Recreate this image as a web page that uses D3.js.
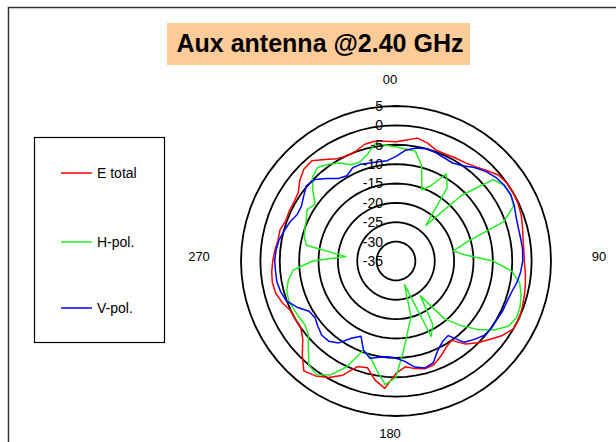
<!DOCTYPE html>
<html>
<head>
<meta charset="utf-8">
<script src="https://cdn.jsdelivr.net/npm/d3@7"></script>
<style>
  body { margin: 0; background: #fff; }
  svg { display: block; font-family: "Liberation Sans", Arial, sans-serif; }
</style>
</head>
<body>
<div id="chart"></div>
<script>
// measurement angles, degrees clockwise from top
const angles = d3.range(0, 360, 5);

// gain in dB, one value per angle
const eTotal = [
  -4.2, -3.65, -2.8, -3.5, -4.6, -4.6, -4.3, -4.0, -3.2, -2.0, -0.5, 0,
  0, -0.2, -0.6, -1.2, -1.7, -1.9, -1.9, -1.5, -1.1, -0.7, -0.3, 0.1,
  0, -1.5, -3.5, -5.2, -7.0, -10.0, -9.2, -7.8, -6.5, -6.2, -6.8, -7.6,
  -6.0, -2.0, -3.8, -6.5, -6.0, -2.5, -0.3, 1.2, 2.0, -0.8, -3.6, -5.0,
  -5.0, -4.9, -3.7, -2.9, -2.6, -2.8, -3.2, -3.6, -4.1, -4.0, -4.7, -4.6,
  -4.6, -4.2, -2.6, -1.4, -1.2, -3.0, -4.5, -5.1, -4.8, -3.8, -3.6, -4.0
];
const hPol = [
  -5.6, -6.0, -6.2, -9.5, -15.5, -13.5, -9.0, -12.0, -23.0, -11.0, -2.3, -1.0,
  -0.8, -1.5, -5.5, -16.0, -20.0, -17.0, -10.0, -5.0, -2.6, -1.6, -0.9, -0.6,
  -1.4, -4.0, -7.5, -11.5, -15.5, -24.0, -16.0, -13.5, -28.5, -20.0, -17.0, -12.0,
  -5.0, -3.0, -6.4, -9.3, -10.5, -4.9, -1.0, 0.8, 0, -3.0, -5.5, -6.3,
  -6.1, -5.8, -5.5, -5.8, -6.8, -8.4, -13.5, -22.0, -11.5, -10.5, -10.0, -9.5,
  -8.5, -9.5, -7.0, -4.5, -3.5, -4.5, -5.8, -7.6, -7.8, -6.5, -4.2, -5.0
];
const vPol = [
  -8.0, -6.3, -5.4, -5.0, -5.2, -5.6, -5.8, -5.0, -3.5, -2.3, -1.4, -0.9,
  -0.8, -1.3, -2.0, -2.3, -2.3, -2.2, -2.3, -2.7, -3.3, -4.1, -4.5, -4.6,
  -4.9, -4.9, -5.2, -6.4, -7.6, -11.5, -11.0, -9.5, -7.0, -6.4, -7.2, -9.0,
  -9.9, -10.2, -9.8, -9.0, -10.5, -13.6, -12.0, -9.2, -8.0, -7.9, -8.7, -9.5,
  -9.1, -6.8, -4.9, -4.2, -3.8, -3.8, -3.7, -3.9, -4.3, -5.1, -5.8, -6.8,
  -6.8, -5.9, -4.8, -5.3, -7.2, -9.0, -9.6, -8.5, -8.4, -8.8, -9.0, -9.0
];

const seriesNames = ["E total", "H-pol.", "V-pol."];
const seriesColors = ["#ff0000", "#22ee22", "#0000ff"];

const ringValues = [5, 0, -5, -10, -15, -20, -25, -30];
const tickValues = [5, 0, -5, -10, -15, -20, -25, -30, -35];
const tickLabels = ["5", "0", "-5", "-10", "-15", "-20", "-25", "-30", "-35"];

const angleTicks = [0, 90, 180, 270];
const angleTickLabels = ["00", "90", "180", "270"];

const title = "Aux antenna @2.40 GHz";

class PolarChart {
    constructor(parentElement) {
        this.parentElement = parentElement;
        this.initVis();
    }

    initVis() {
        let vis = this;

        vis.width = 616;
        vis.height = 442;
        vis.cx = 396;
        vis.cy = 261;
        vis.radius = 155;

        vis.svg = d3.select(`#${vis.parentElement}`)
            .append("svg")
            .attr("width", vis.width)
            .attr("height", vis.height);

        // chart frame, runs off the right and bottom edge
        vis.svg.append("rect")
            .attr("x", 8.5).attr("y", 7.5)
            .attr("width", 700).attr("height", 500)
            .attr("fill", "#fff")
            .attr("stroke", "#333")
            .attr("stroke-width", 1.5);

        // title
        vis.svg.append("rect")
            .attr("x", 167).attr("y", 23)
            .attr("width", 303).attr("height", 42)
            .attr("fill", "#ffcc99");
        vis.svg.append("text")
            .attr("x", 320).attr("y", 52)
            .attr("text-anchor", "middle")
            .style("font-size", "25px")
            .style("font-weight", "bold")
            .text(title);

        vis.rScale = d3.scaleLinear().domain([-35, 5]).range([0, vis.radius]);
        vis.aScale = d3.scaleLinear().domain([0, 360]).range([0, 2 * Math.PI]);

        vis.g = vis.svg.append("g")
            .attr("transform", `translate(${vis.cx},${vis.cy})`);

        vis.wrangleData();
    }

    wrangleData() {
        let vis = this;
        let all = [eTotal, hPol, vPol];
        vis.series = seriesNames.map((name, i) => ({
            name: name,
            color: seriesColors[i],
            values: angles.map((a, j) => ({ angle: a, value: all[i][j] }))
        }));
        vis.updateVis();
    }

    updateVis() {
        let vis = this;

        // grid rings are polygons through the category angles, like Excel radar
        let ring = d3.lineRadial()
            .angle(d => vis.aScale(d.angle))
            .radius(d => vis.rScale(d.value))
            .curve(d3.curveLinearClosed);

        vis.g.selectAll(".ring")
            .data(ringValues)
            .join("path")
            .attr("class", "ring")
            .attr("fill", "none")
            .attr("stroke", "#000")
            .attr("stroke-width", 1.8)
            .attr("d", v => ring(angles.map(a => ({ angle: a, value: v }))));

        vis.g.selectAll(".series")
            .data(vis.series)
            .join("path")
            .attr("class", "series")
            .attr("fill", "none")
            .attr("stroke", d => d.color)
            .attr("stroke-width", 1.5)
            .attr("stroke-linejoin", "round")
            .attr("d", d => ring(d.values));

        // value labels up the 0 degree spoke
        vis.g.selectAll(".tick")
            .data(tickValues)
            .join("text")
            .attr("class", "tick")
            .attr("x", -13)
            .attr("y", v => -vis.rScale(v))
            .attr("dy", "0.35em")
            .attr("text-anchor", "end")
            .style("font-size", "14px")
            .text((v, i) => tickLabels[i]);

        // angle labels
        vis.g.selectAll(".angle")
            .data(angleTicks)
            .join("text")
            .attr("class", "angle")
            .attr("x", a => {
                let t = vis.aScale(a);
                return (vis.radius + 45) * Math.sin(t) - 6 * Math.abs(Math.cos(t)) + 3 * Math.abs(Math.sin(t));
            })
            .attr("y", a => -(vis.radius + 22) * Math.cos(vis.aScale(a)) - 5)
            .attr("dy", "0.35em")
            .attr("text-anchor", "middle")
            .style("font-size", "13px")
            .text((a, i) => angleTickLabels[i]);

        // legend
        let legend = vis.svg.append("g");
        legend.append("rect")
            .attr("x", 34.5).attr("y", 137.5)
            .attr("width", 130).attr("height", 205)
            .attr("fill", "#fff")
            .attr("stroke", "#000")
            .attr("stroke-width", 1.2);

        let rows = [173, 242, 308];
        let item = legend.selectAll(".item")
            .data(vis.series)
            .join("g")
            .attr("class", "item")
            .attr("transform", (d, i) => `translate(61,${rows[i]})`);
        item.append("line")
            .attr("x1", 0).attr("x2", 31)
            .attr("stroke", d => d.color)
            .attr("stroke-width", 1.5);
        item.append("text")
            .attr("x", 36)
            .attr("dy", "0.35em")
            .style("font-size", "14px")
            .text(d => d.name);
    }
}

new PolarChart("chart");
</script>
</body>
</html>
